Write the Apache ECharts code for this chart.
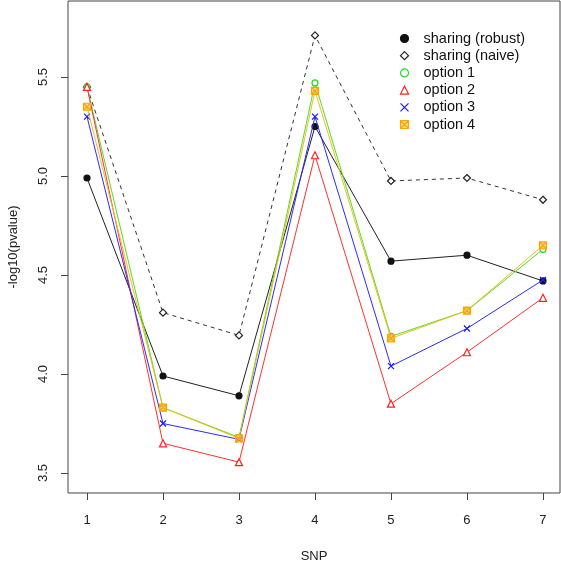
<!DOCTYPE html>
<html>
<head>
<meta charset="utf-8">
<script src="https://cdn.jsdelivr.net/npm/echarts@6/dist/echarts.min.js"></script>
<style>html,body{margin:0;padding:0;background:#fff}#c{width:561px;height:564px}</style>
</head>
<body>
<div id="c"></div>
<script>
var snp = [1, 2, 3, 4, 5, 6, 7];
var xTicks = [1, 2, 3, 4, 5, 6, 7];
var yTicks = [3.5, 4.0, 4.5, 5.0, 5.5];
var robust = [4.99, 3.99, 3.89, 5.25, 4.57, 4.60, 4.47];
var naive  = [5.45, 4.31, 4.195, 5.71, 4.975, 4.99, 4.88];
var opt1   = [5.45, 3.83, 3.68, 5.47, 4.19, 4.32, 4.63];
var opt2   = [5.45, 3.65, 3.555, 5.105, 3.85, 4.11, 4.385];
var opt3   = [5.30, 3.75, 3.67, 5.30, 4.04, 4.23, 4.475];
var opt4   = [5.35, 3.83, 3.675, 5.43, 4.18, 4.32, 4.65];
var names  = ['sharing (robust)', 'sharing (naive)', 'option 1', 'option 2', 'option 3', 'option 4'];

function pairs(v) { return snp.map(function (x, i) { return [x, v[i]]; }); }

var crossPath = 'path://M0,0L10,10M10,0L0,10';
var sqCrossPath = 'path://M0,0L10,0L10,10L0,10ZM0,0L10,10M10,0L0,10';

var styles = [
  {data: robust, color: '#111', symbol: 'circle', size: 6, fill: '#111', dash: 'solid', lc: '#222'},
  {data: naive, color: '#222', symbol: 'diamond', size: 7, fill: '#fff', dash: [4, 4], lc: '#333'},
  {data: opt1, color: '#22dd22', symbol: 'circle', size: 6, fill: '#fff', dash: 'solid', lc: '#55dd22'},
  {data: opt2, color: '#ff2020', symbol: 'triangle', size: 7, fill: '#fff', dash: 'solid', lc: '#ff3030'},
  {data: opt3, color: '#1a1aff', symbol: crossPath, size: 6, fill: 'none', dash: 'solid', lc: '#2a2aff'},
  {data: opt4, color: '#ffa500', symbol: sqCrossPath, size: 7, fill: 'rgba(255,190,80,0.6)', dash: 'solid', lc: '#e8c020'}
];

var series = styles.map(function (s, i) {
  return {
    name: names[i],
    type: 'line',
    data: pairs(s.data),
    symbol: s.symbol,
    symbolSize: s.size,
    showAllSymbol: true,
    lineStyle: {color: s.lc, width: 1, type: s.dash},
    itemStyle: {color: s.fill, borderColor: s.color, borderWidth: 1.2},
    z: 2 + i,
    animation: false
  };
});

var legendData = styles.map(function (s, i) {
  return {name: names[i], icon: s.symbol, itemStyle: {color: s.fill, borderColor: s.color, borderWidth: 1.2}};
});

var chart = echarts.init(document.getElementById('c'), null, {renderer: 'canvas'});
chart.setOption({
  animation: false,
  backgroundColor: '#fff',
  grid: {left: 68, right: 1, top: 1, bottom: 71, show: true, borderColor: '#444', borderWidth: 1,
    backgroundColor: 'transparent', containLabel: false, outerBoundsMode: 'none'},
  xAxis: {
    type: 'value', min: 0.75, max: 7.224,
    name: 'SNP', nameLocation: 'middle', nameGap: 57,
    nameTextStyle: {fontFamily: 'Liberation Sans', fontSize: 13, color: '#222'},
    axisLine: {show: false},
    splitLine: {show: false},
    axisTick: {show: true, length: 7, inside: false, customValues: xTicks, lineStyle: {color: '#444'}},
    axisLabel: {customValues: xTicks, margin: 21, fontFamily: 'Liberation Sans', fontSize: 13, color: '#222'}
  },
  yAxis: {
    type: 'value', min: 3.399, max: 5.884,
    name: '-log10(pvalue)', nameLocation: 'middle', nameGap: 48, nameRotate: 90,
    nameTextStyle: {fontFamily: 'Liberation Sans', fontSize: 13, color: '#222'},
    axisLine: {show: false},
    splitLine: {show: false},
    axisTick: {show: true, length: 7, customValues: yTicks, lineStyle: {color: '#444'}},
    axisLabel: {customValues: yTicks, rotate: 90, margin: 18, fontFamily: 'Liberation Sans', fontSize: 13, color: '#222',
      formatter: function (v) { return v.toFixed(1); }}
  },
  legend: {
    orient: 'vertical', left: 393, top: 26, itemGap: 2.2, itemWidth: 8, itemHeight: 8,
    textStyle: {fontFamily: 'Liberation Sans', fontSize: 14.5, lineHeight: 15, color: '#111', padding: [0, 0, 0, 10]},
    data: legendData, selectedMode: false
  },
  series: series
});
</script>
</body>
</html>
